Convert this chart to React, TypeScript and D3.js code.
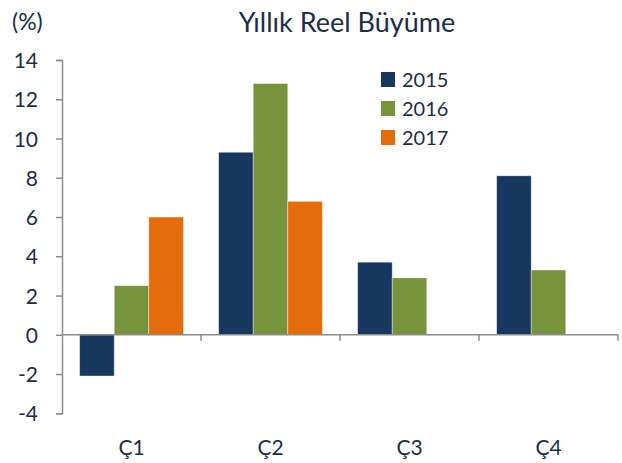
import React, { useRef, useEffect } from "react";
import * as d3 from "d3";

const categories = ["Ç1", "Ç2", "Ç3", "Ç4"];
const years = ["2015", "2016", "2017"];
const values2015 = [-2.1, 9.3, 3.7, 8.1];
const values2016 = [2.5, 12.8, 2.9, 3.3];
const values2017: (number | null)[] = [6.0, 6.8, null, null];
const yTicks = [-4, -2, 0, 2, 4, 6, 8, 10, 12, 14];

const colors = ["#17375e", "#77933c", "#e46c0a"];
const textColor = "#1c2d48";
const axisColor = "#8c8c8c";
const font = "Lato, 'Open Sans', sans-serif";

export default function App() {
  const svgRef = useRef<SVGSVGElement>(null);

  useEffect(() => {
    const w = 622;
    const h = 463;
    const svg = d3.select(svgRef.current).attr("width", w).attr("height", h);
    svg.selectAll("*").remove();

    const series = [values2015, values2016, values2017];

    //scales
    const x = d3.scaleBand().domain(categories).range([62, 618]).padding(0);
    const xs = d3
      .scaleBand()
      .domain(years)
      .range([0, x.bandwidth()])
      .paddingInner(0)
      .paddingOuter(0.51);
    const y = d3.scaleLinear().domain([-4, 14]).range([413.3, 60]);

    //title and unit
    svg
      .append("text")
      .attr("x", 347)
      .attr("y", 32)
      .attr("text-anchor", "middle")
      .attr("font-family", font)
      .attr("font-size", 27)
      .attr("fill", textColor)
      .text("Yıllık Reel Büyüme");

    svg
      .append("text")
      .attr("x", 12)
      .attr("y", 30)
      .attr("font-family", font)
      .attr("font-size", 23)
      .attr("fill", textColor)
      .text("(%)");

    //bars
    categories.forEach((c, i) => {
      years.forEach((yr, j) => {
        const v = series[j][i];
        if (v == null) return;
        svg
          .append("rect")
          .attr("x", (x(c) as number) + (xs(yr) as number))
          .attr("width", xs.bandwidth())
          .attr("y", y(Math.max(0, v)))
          .attr("height", Math.abs(y(v) - y(0)))
          .attr("fill", colors[j])
          .attr("stroke", "rgba(255,255,255,0.5)")
          .attr("stroke-width", 0.8);
      });
    });

    //y axis
    const yAxis = d3
      .axisLeft(y)
      .tickValues(yTicks)
      .tickSize(6)
      .tickPadding(18)
      .tickFormat((d) => String(d));
    const gy = svg.append("g").attr("transform", "translate(62,0)").call(yAxis);
    gy.select(".domain").attr("stroke", axisColor).attr("stroke-width", 1.5);
    gy.selectAll(".tick line").attr("stroke", axisColor).attr("stroke-width", 1.5);
    gy.selectAll(".tick text")
      .attr("font-family", font)
      .attr("font-size", 21)
      .attr("fill", textColor)
      .attr("dy", "0.36em");

    //x axis on zero line
    const boundaries = [...categories.map((c) => x(c) as number), 618];
    svg
      .append("line")
      .attr("x1", 62)
      .attr("x2", 618)
      .attr("y1", y(0))
      .attr("y2", y(0))
      .attr("stroke", axisColor)
      .attr("stroke-width", 1.5);
    svg
      .selectAll(".xtick")
      .data(boundaries.slice(1))
      .join("line")
      .attr("x1", (d) => d)
      .attr("x2", (d) => d)
      .attr("y1", y(0))
      .attr("y2", y(0) + 6)
      .attr("stroke", axisColor)
      .attr("stroke-width", 1.5);

    svg
      .selectAll(".xlabel")
      .data(categories)
      .join("text")
      .attr("x", (d) => (x(d) as number) + x.bandwidth() / 2)
      .attr("y", 455)
      .attr("text-anchor", "middle")
      .attr("font-family", font)
      .attr("font-size", 21)
      .attr("fill", textColor)
      .text((d) => d);

    //legend
    const lg = svg.append("g").attr("transform", "translate(381,72)");
    years.forEach((yr, j) => {
      lg.append("rect")
        .attr("x", 0)
        .attr("y", j * 29)
        .attr("width", 14)
        .attr("height", 15)
        .attr("fill", colors[j]);
      lg.append("text")
        .attr("x", 21)
        .attr("y", j * 29 + 15)
        .attr("font-family", font)
        .attr("font-size", 20)
        .attr("fill", textColor)
        .text(yr);
    });
  }, []);

  return (
    <svg
      ref={svgRef}
      style={{ position: "absolute", left: 0, top: 0, background: "#fff" }}
    ></svg>
  );
}
